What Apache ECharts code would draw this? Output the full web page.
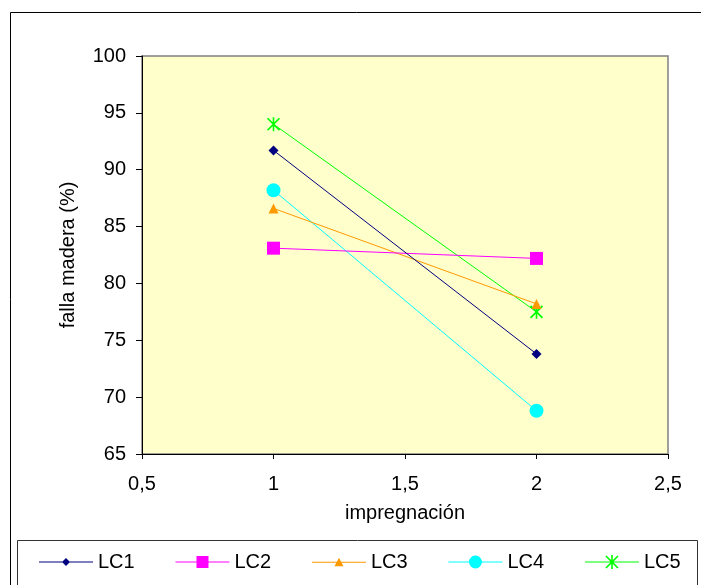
<!DOCTYPE html>
<html>
<head>
<meta charset="utf-8">
<script src="https://cdn.jsdelivr.net/npm/echarts@6/dist/echarts.min.js"></script>
<style>
html,body{margin:0;padding:0;background:#fff;}
#chart{width:701px;height:585px;}
</style>
</head>
<body>
<div id="chart"></div>
<script>
// ---- data ----
const xValues = [1, 2];
const seriesNames = ['LC1', 'LC2', 'LC3', 'LC4', 'LC5'];
const lc1 = [91.7, 73.8];
const lc2 = [83.1, 82.2];
const lc3 = [86.6, 78.2];
const lc4 = [88.2, 68.8];
const lc5 = [94.0, 77.5];
const xAxisTitle = 'impregnación';
const yAxisTitle = 'falla madera (%)';

// ---- styling ----
const FONT = "'Liberation Sans', Arial, sans-serif";
const colors = ['#000080', '#FF00FF', '#FF9900', '#00FFFF', '#00FF00'];

const LINE = 'M0,6.5 H54 V7.5 H0 Z ';
const ASTER14 = 'M6.2,0 H7.8 V14 H6.2 Z M0.4,1.6 L1.6,0.4 L13.6,12.4 L12.4,13.6 Z M12.4,0.4 L13.6,1.6 L1.6,13.6 L0.4,12.4 Z';
const legendIcons = [
  'path://' + LINE + 'M27,3 L31,7 L27,11 L23,7 Z',
  'path://' + LINE + 'M21,1 H33 V13 H21 Z',
  'path://' + LINE + 'M27,2.5 L31.5,11 L22.5,11 Z',
  'path://' + LINE + 'M20.5,7 A6.5,6.5 0 1 1 33.5,7 A6.5,6.5 0 1 1 20.5,7 Z',
  'path://' + LINE + 'M26.2,0 H27.8 V14 H26.2 Z M20.4,1.6 L21.6,0.4 L33.6,12.4 L32.4,13.6 Z M32.4,0.4 L33.6,1.6 L21.6,13.6 L20.4,12.4 Z'
];
const symbols = ['diamond', 'rect', 'triangle', 'circle', 'path://' + ASTER14];
const symbolSizes = [10, 13, 10, 14, 14];
const allValues = [lc1, lc2, lc3, lc4, lc5];

function pairs(vals) { return xValues.map((x, i) => [x, vals[i]]); }

const chart = echarts.init(document.getElementById('chart'), null, {renderer: 'canvas'});

const option = {
  backgroundColor: '#ffffff',
  animation: false,
  textStyle: {fontFamily: FONT},
  graphic: [
    {type: 'rect', z: -10, silent: true,
      shape: {x: 10.5, y: 12.5, width: 720, height: 620},
      style: {fill: 'transparent', stroke: '#000', lineWidth: 1}},
    {type: 'rect', z: -5, silent: true,
      shape: {x: 17.5, y: 540.5, width: 680, height: 80},
      style: {fill: '#fff', stroke: '#333', lineWidth: 1}}
  ],
  grid: {
    left: 142, top: 56, width: 526, height: 398,
    show: true, backgroundColor: '#FFFFCC', borderColor: '#808080', borderWidth: 1.5
  },
  xAxis: {
    type: 'value', min: 0.5, max: 2.5, interval: 0.5,
    name: xAxisTitle, nameLocation: 'middle', nameGap: 49,
    nameTextStyle: {color: '#000', fontSize: 20, fontFamily: FONT},
    axisLine: {show: true, onZero: false, lineStyle: {color: '#000', width: 1}},
    axisTick: {show: true, inside: false, length: 5, lineStyle: {color: '#000'}},
    axisLabel: {color: '#000', fontSize: 20, fontFamily: FONT, margin: 20,
      formatter: v => String(v).replace('.', ',')},
    splitLine: {show: false}
  },
  yAxis: {
    type: 'value', min: 65, max: 100, interval: 5,
    name: yAxisTitle, nameLocation: 'middle', nameGap: 64, nameRotate: 90,
    nameTextStyle: {color: '#000', fontSize: 20, fontFamily: FONT},
    axisLine: {show: true, onZero: false, lineStyle: {color: '#000', width: 1}},
    axisTick: {show: true, inside: false, length: 6, lineStyle: {color: '#000'}},
    axisLabel: {color: '#000', fontSize: 20, fontFamily: FONT, margin: 16},
    splitLine: {show: false}
  },
  legend: {
    left: 39, top: 552, padding: 0, itemGap: 40.8,
    itemWidth: 54, itemHeight: 14,
    itemStyle: {borderWidth: 0},
    textStyle: {color: '#000', fontSize: 20, fontFamily: FONT},
    data: seriesNames.map((n, i) => ({name: n, icon: legendIcons[i]}))
  },
  series: seriesNames.map((n, i) => ({
    name: n, type: 'line',
    data: pairs(allValues[i]),
    symbol: symbols[i], symbolSize: symbolSizes[i],
    symbolKeepAspect: true,
    lineStyle: {color: colors[i], width: 1},
    itemStyle: {color: colors[i], borderWidth: 0},
    color: colors[i],
    z: 2 + (4 - i)
  }))
};
chart.setOption(option);
</script>
</body>
</html>
